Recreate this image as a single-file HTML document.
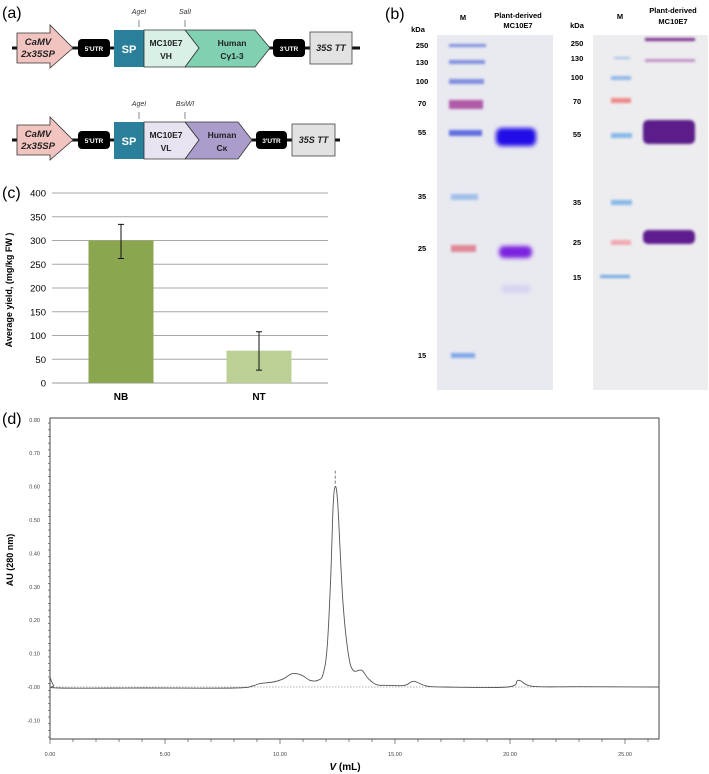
<!DOCTYPE html>
<html><head><meta charset="utf-8"><style>
html,body{margin:0;padding:0;background:#fff;}
svg{display:block;font-family:"Liberation Sans",sans-serif;}
</style></head><body>
<svg id="fig" width="709" height="774" viewBox="0 0 709 774" xmlns="http://www.w3.org/2000/svg">
<defs>
<filter id="blur1" x="-20%" y="-50%" width="140%" height="200%"><feGaussianBlur stdDeviation="1.2"/></filter>
<filter id="blur2" x="-20%" y="-50%" width="140%" height="200%"><feGaussianBlur stdDeviation="2"/></filter>
</defs>

<!-- PANEL A -->
<g>
<text x="2" y="18" font-size="16">(a)</text>
<g>
<line x1="12" y1="48" x2="360" y2="48" stroke="#111" stroke-width="3"/>
<polygon points="17,33 50,33 50,25 73,48 50,68 50,63 17,63" fill="#f2c4c0" stroke="#333" stroke-width="0.8"/>
<text x="38" y="45" font-size="9.5" font-weight="bold" font-style="italic" text-anchor="middle" fill="#222">CaMV</text>
<text x="38" y="57" font-size="9.5" font-weight="bold" font-style="italic" text-anchor="middle" fill="#222">2x35SP</text>
<rect x="78" y="39" width="32" height="18" rx="4" fill="#000"/>
<text x="94" y="51" font-size="6.5" font-weight="bold" fill="#fff" text-anchor="middle">5'UTR</text>
<rect x="114" y="30" width="30" height="37" fill="#2a7f9a"/>
<text x="129" y="53" font-size="11" font-weight="bold" fill="#fff" text-anchor="middle">SP</text>
<polygon points="185,30 255,30 270,48 255,67 185,67 199,48" fill="#7fd1b1" stroke="#333" stroke-width="0.8"/>
<polygon points="144,30 185,30 199,48 185,67 144,67" fill="#d8f0e6" stroke="#333" stroke-width="0.8"/>
<text x="166" y="46" font-size="8.5" font-weight="bold" text-anchor="middle" fill="#222">MC10E7</text>
<text x="166" y="59" font-size="8.5" font-weight="bold" text-anchor="middle" fill="#222">VH</text>
<text x="232" y="46" font-size="8.5" font-weight="bold" text-anchor="middle" fill="#222">Human</text>
<text x="232" y="59" font-size="8.5" font-weight="bold" text-anchor="middle" fill="#222">Cγ1-3</text>
<rect x="273" y="39" width="32" height="18" rx="4" fill="#000"/>
<text x="289" y="51" font-size="6.5" font-weight="bold" fill="#fff" text-anchor="middle">3'UTR</text>
<rect x="310" y="32" width="42" height="32" fill="#e2e2e2" stroke="#444" stroke-width="0.8"/>
<text x="331" y="51" font-size="9" font-weight="bold" font-style="italic" text-anchor="middle" fill="#222">35S TT</text>
<text x="139" y="14" font-size="7" font-style="italic" text-anchor="middle" fill="#333">AgeI</text>
<line x1="139" y1="20" x2="139" y2="27" stroke="#555" stroke-width="0.7"/>
<text x="185" y="14" font-size="7" font-style="italic" text-anchor="middle" fill="#333">SalI</text>
<line x1="185" y1="20" x2="185" y2="27" stroke="#555" stroke-width="0.7"/>
</g>
<g>
<line x1="12" y1="140" x2="340" y2="140" stroke="#111" stroke-width="3"/>
<polygon points="17,125 50,125 50,117 73,140 50,160 50,155 17,155" fill="#f2c4c0" stroke="#333" stroke-width="0.8"/>
<text x="38" y="137" font-size="9.5" font-weight="bold" font-style="italic" text-anchor="middle" fill="#222">CaMV</text>
<text x="38" y="149" font-size="9.5" font-weight="bold" font-style="italic" text-anchor="middle" fill="#222">2x35SP</text>
<rect x="78" y="131" width="32" height="18" rx="4" fill="#000"/>
<text x="94" y="143" font-size="6.5" font-weight="bold" fill="#fff" text-anchor="middle">5'UTR</text>
<rect x="114" y="122" width="30" height="37" fill="#2a7f9a"/>
<text x="129" y="145" font-size="11" font-weight="bold" fill="#fff" text-anchor="middle">SP</text>
<polygon points="185,122 238,122 252,140 238,159 185,159 199,140" fill="#ab9dcb" stroke="#333" stroke-width="0.8"/>
<polygon points="144,122 185,122 199,140 185,159 144,159" fill="#e8e3f1" stroke="#333" stroke-width="0.8"/>
<text x="166" y="138" font-size="8.5" font-weight="bold" text-anchor="middle" fill="#222">MC10E7</text>
<text x="166" y="151" font-size="8.5" font-weight="bold" text-anchor="middle" fill="#222">VL</text>
<text x="222" y="138" font-size="8.5" font-weight="bold" text-anchor="middle" fill="#222">Human</text>
<text x="222" y="151" font-size="8.5" font-weight="bold" text-anchor="middle" fill="#222">Cκ</text>
<rect x="256" y="131" width="31" height="18" rx="4" fill="#000"/>
<text x="271.5" y="143" font-size="6.5" font-weight="bold" fill="#fff" text-anchor="middle">3'UTR</text>
<rect x="292" y="124" width="43" height="32" fill="#e2e2e2" stroke="#444" stroke-width="0.8"/>
<text x="313.5" y="143" font-size="9" font-weight="bold" font-style="italic" text-anchor="middle" fill="#222">35S TT</text>
<text x="139" y="106" font-size="7" font-style="italic" text-anchor="middle" fill="#333">AgeI</text>
<line x1="139" y1="112" x2="139" y2="119" stroke="#555" stroke-width="0.7"/>
<text x="185" y="106" font-size="7" font-style="italic" text-anchor="middle" fill="#333">BsiWI</text>
<line x1="185" y1="112" x2="185" y2="119" stroke="#555" stroke-width="0.7"/>
</g>
</g>

<!-- PANEL B -->
<g>
<text x="385" y="19" font-size="16">(b)</text>
<rect x="437" y="35" width="116" height="355" fill="#e9e9f0"/>
<text x="418" y="32" font-size="7.5" font-weight="bold" text-anchor="middle">kDa</text>
<text x="463" y="20" font-size="7.5" font-weight="bold" text-anchor="middle">M</text>
<text x="518" y="18" font-size="7.5" font-weight="bold" text-anchor="middle">Plant-derived</text>
<text x="518" y="28" font-size="7.5" font-weight="bold" text-anchor="middle">MC10E7</text>
<g font-size="7.5" font-weight="bold" text-anchor="middle">
<text x="422" y="48">250</text><text x="422" y="65">130</text><text x="422" y="84">100</text>
<text x="422" y="106">70</text><text x="422" y="135">55</text><text x="422" y="199">35</text>
<text x="422" y="251">25</text><text x="422" y="358">15</text>
</g>
<g filter="url(#blur1)">
<rect x="449" y="44" width="37" height="3" fill="#8090e0"/>
<rect x="449" y="60" width="36" height="4" fill="#8090e0"/>
<rect x="449" y="79" width="35" height="5" fill="#8090e0"/>
<rect x="449" y="100" width="34" height="9" fill="#b05aa8"/>
<rect x="449" y="130" width="33" height="6" fill="#6070e0"/>
<rect x="451" y="194" width="27" height="6" fill="#a0c0ea"/>
<rect x="451" y="245" width="25" height="7" fill="#e08898"/>
<rect x="451" y="353" width="24" height="5" fill="#80a8e8"/>
</g>
<g filter="url(#blur2)">
<rect x="496" y="128" width="40" height="18" rx="6" fill="#2208e8"/>
<rect x="499" y="246" width="33" height="12" rx="5" fill="#7a20e0"/>
<rect x="502" y="285" width="28" height="8" fill="#d4d4f0"/>
</g>
<rect x="593" y="35" width="115" height="355" fill="#ededef"/>
<text x="577" y="28" font-size="7.5" font-weight="bold" text-anchor="middle">kDa</text>
<text x="620" y="19" font-size="7.5" font-weight="bold" text-anchor="middle">M</text>
<text x="673" y="13" font-size="7.5" font-weight="bold" text-anchor="middle">Plant-derived</text>
<text x="673" y="24" font-size="7.5" font-weight="bold" text-anchor="middle">MC10E7</text>
<g font-size="7.5" font-weight="bold" text-anchor="middle">
<text x="577" y="46">250</text><text x="577" y="61">130</text><text x="577" y="80">100</text>
<text x="577" y="104">70</text><text x="577" y="137">55</text><text x="577" y="205">35</text>
<text x="577" y="245">25</text><text x="577" y="280">15</text>
</g>
<g filter="url(#blur1)">
<rect x="614" y="57" width="16" height="2" fill="#a0c0ea"/>
<rect x="611" y="76" width="20" height="4" fill="#90b8ea"/>
<rect x="611" y="98" width="20" height="5" fill="#f08888"/>
<rect x="611" y="133" width="21" height="5" fill="#88b8ea"/>
<rect x="611" y="200" width="21" height="5" fill="#88b8ea"/>
<rect x="611" y="240" width="20" height="5" fill="#f0a8b0"/>
<rect x="600" y="275" width="30" height="3" fill="#70a8e0"/>
</g>
<g filter="url(#blur1)">
<rect x="645" y="38" width="50" height="3" fill="#7a2a8a"/>
<rect x="645" y="59" width="50" height="3" fill="#c090c8"/>
<rect x="643" y="120" width="52" height="24" rx="5" fill="#5b1a8a"/>
<rect x="643" y="230" width="52" height="14" rx="5" fill="#5e1a8e"/>
</g>
</g>

<!-- PANEL C -->
<g id="panelC">
<text x="2" y="198" font-size="16">(c)</text>
<text transform="translate(12,290) rotate(-90)" font-size="9" font-weight="bold" text-anchor="middle">Average yield, (mg/kg FW )</text>
</g>

<!-- PANEL D -->
<g id="panelD">
<text x="2" y="424" font-size="16">(d)</text>
<text transform="translate(13,560) rotate(-90)" font-size="9" font-weight="bold" text-anchor="middle">AU (280  nm)</text>
<text x="345" y="770" font-size="10" font-weight="bold" text-anchor="middle"><tspan font-style="italic">V</tspan>  (mL)</text>
</g>
</svg>
<script>
const yieldCategories = ["NB", "NT"];
const yieldValues = [300, 68];
const yieldErrLow = [262, 27];
const yieldErrHigh = [334, 108];
const yieldTicks = [0, 50, 100, 150, 200, 250, 300, 350, 400];
const seVolume = [0, 0.15, 0.4, 4, 8.0, 8.8, 9.1, 9.7, 10.1, 10.55, 10.95, 11.3, 11.65, 11.88, 12.05, 12.2, 12.31, 12.4, 12.5, 12.6, 12.75, 12.97, 13.18, 13.55, 13.84, 14.2, 14.64, 15.43, 15.8, 16.37, 17.1, 19.9, 20.37, 21.0, 23.0, 26.5];
const seAbsorbance = [0.03, 0.005, -0.003, -0.003, -0.003, 0.003, 0.01, 0.015, 0.023, 0.04, 0.035, 0.02, 0.02, 0.04, 0.12, 0.32, 0.54, 0.60, 0.56, 0.43, 0.24, 0.10, 0.05, 0.05, 0.025, 0.007, 0.005, 0.005, 0.017, 0.003, 0, 0, 0.02, 0.002, 0.001, 0];
const auTickLabels = ["-0.10", "-0.00", "0.10", "0.20", "0.30", "0.40", "0.50", "0.60", "0.70", "0.80"];
const auTickValues = [-0.1, 0, 0.1, 0.2, 0.3, 0.4, 0.5, 0.6, 0.7, 0.8];
const volTickLabels = ["0.00", "5.00", "10.00", "15.00", "20.00", "25.00"];
const volTickValues = [0, 5, 10, 15, 20, 25];

const NS = "http://www.w3.org/2000/svg";
function mk(tag, attrs, parent) { const e = document.createElementNS(NS, tag); for (const k in attrs) e.setAttribute(k, attrs[k]); parent.appendChild(e); return e; }

const gC = document.getElementById("panelC");
const cx0 = 52, cx1 = 328, cy0 = 383, cy1 = 193;
const yC = v => cy0 - (v / 400) * (cy0 - cy1);
const bandW = (cx1 - cx0) / yieldCategories.length;
const xC = i => cx0 + bandW * (i + 0.5);
yieldTicks.forEach(t => {
  const l = mk("line", { x1: cx0, x2: cx1, y1: yC(t), y2: yC(t), stroke: t === 0 ? "#999" : "#a8a8a8", "stroke-width": 1 }, gC);
  
  
  const tx = mk("text", { x: 46, y: yC(t) + 3.5, "font-size": 9.5, "text-anchor": "end" }, gC);
  tx.textContent = t;
  
  
});
const barColors = ["#8aa64e", "#bcd096"];
yieldCategories.forEach((c, i) => {
  const w = 65;
  const b = mk("rect", { x: xC(i) - w / 2, y: yC(yieldValues[i]), width: w, height: yC(0) - yC(yieldValues[i]), fill: barColors[i] }, gC);
  
  
  const e = mk("path", { d: `M${xC(i)},${yC(yieldErrLow[i])}V${yC(yieldErrHigh[i])}M${xC(i)-3},${yC(yieldErrLow[i])}h6M${xC(i)-3},${yC(yieldErrHigh[i])}h6`, stroke: "#111", "stroke-width": 1, fill: "none" }, gC);
  
  
  const t = mk("text", { x: xC(i), y: 400, "font-size": 10, "font-weight": "bold", "text-anchor": "middle" }, gC);
  t.textContent = c;
  
  
});

const gD = document.getElementById("panelD");
const dx0 = 50, dx1 = 659, dyTop = 418, dyBot = 739;
const xD = v => dx0 + v * 23;
const yD = a => 687 - a * 334;
const frame = mk("path", { d: `M${dx0},${dyTop}H${dx1}V${dyBot}H${dx0}Z`, fill: "none", stroke: "#444", "stroke-width": 1 }, gD);


for (let a = -0.15; a <= 0.8001; a += 0.02) {
  const major = Math.abs(a * 10 - Math.round(a * 10)) < 0.01;
  const tk = mk("line", { x1: dx0 - (major ? 4 : 2), x2: dx0, y1: yD(a), y2: yD(a), stroke: "#555", "stroke-width": 0.7 }, gD);
  
  
}
auTickValues.forEach((v, i) => {
  const t = mk("text", { x: 40, y: yD(v) + 2, "font-size": 5.5, "text-anchor": "end", fill: "#444" }, gD);
  t.textContent = auTickLabels[i];
  
  
});
for (let v = 0; v <= 26.5; v += 1) {
  const tk = mk("line", { x1: xD(v), x2: xD(v), y1: dyBot, y2: dyBot + (v % 5 === 0 ? 5 : 3), stroke: "#555", "stroke-width": 0.7 }, gD);
  
  
}
volTickValues.forEach((v, i) => {
  const t = mk("text", { x: xD(v), y: 756, "font-size": 5.5, "text-anchor": "middle", fill: "#444" }, gD);
  t.textContent = volTickLabels[i];
  
  
});
const base = mk("line", { x1: dx0, x2: dx1, y1: yD(0), y2: yD(0), stroke: "#999", "stroke-width": 0.7, "stroke-dasharray": "1.5,1.5" }, gD);


// smooth path (Catmull-Rom -> Bezier)
const P = seVolume.map((v, i) => [xD(v), yD(seAbsorbance[i])]);
let d = "M" + P[0][0].toFixed(1) + "," + P[0][1].toFixed(1);
for (let i = 0; i < P.length - 1; i++) {
  const p0 = P[i - 1] || P[i], p1 = P[i], p2 = P[i + 1], p3 = P[i + 2] || P[i + 1];
  const t = 0.18;
  const c1 = [p1[0] + (p2[0] - p0[0]) * t, p1[1] + (p2[1] - p0[1]) * t];
  const c2 = [p2[0] - (p3[0] - p1[0]) * t, p2[1] - (p3[1] - p1[1]) * t];
  d += "C" + c1[0].toFixed(1) + "," + c1[1].toFixed(1) + " " + c2[0].toFixed(1) + "," + c2[1].toFixed(1) + " " + p2[0].toFixed(1) + "," + p2[1].toFixed(1);
}
const line = mk("path", { d: d, fill: "none", stroke: "#555", "stroke-width": 0.9, "stroke-linejoin": "round" }, gD);


let pk = 0; seAbsorbance.forEach((a, i) => { if (a > seAbsorbance[pk]) pk = i; });
const pm = mk("line", { x1: xD(seVolume[pk]), x2: xD(seVolume[pk]), y1: yD(seAbsorbance[pk]) - 16, y2: yD(seAbsorbance[pk]) - 3, stroke: "#555", "stroke-width": 0.8, "stroke-dasharray": "3,2" }, gD);


</script>
</body></html>
